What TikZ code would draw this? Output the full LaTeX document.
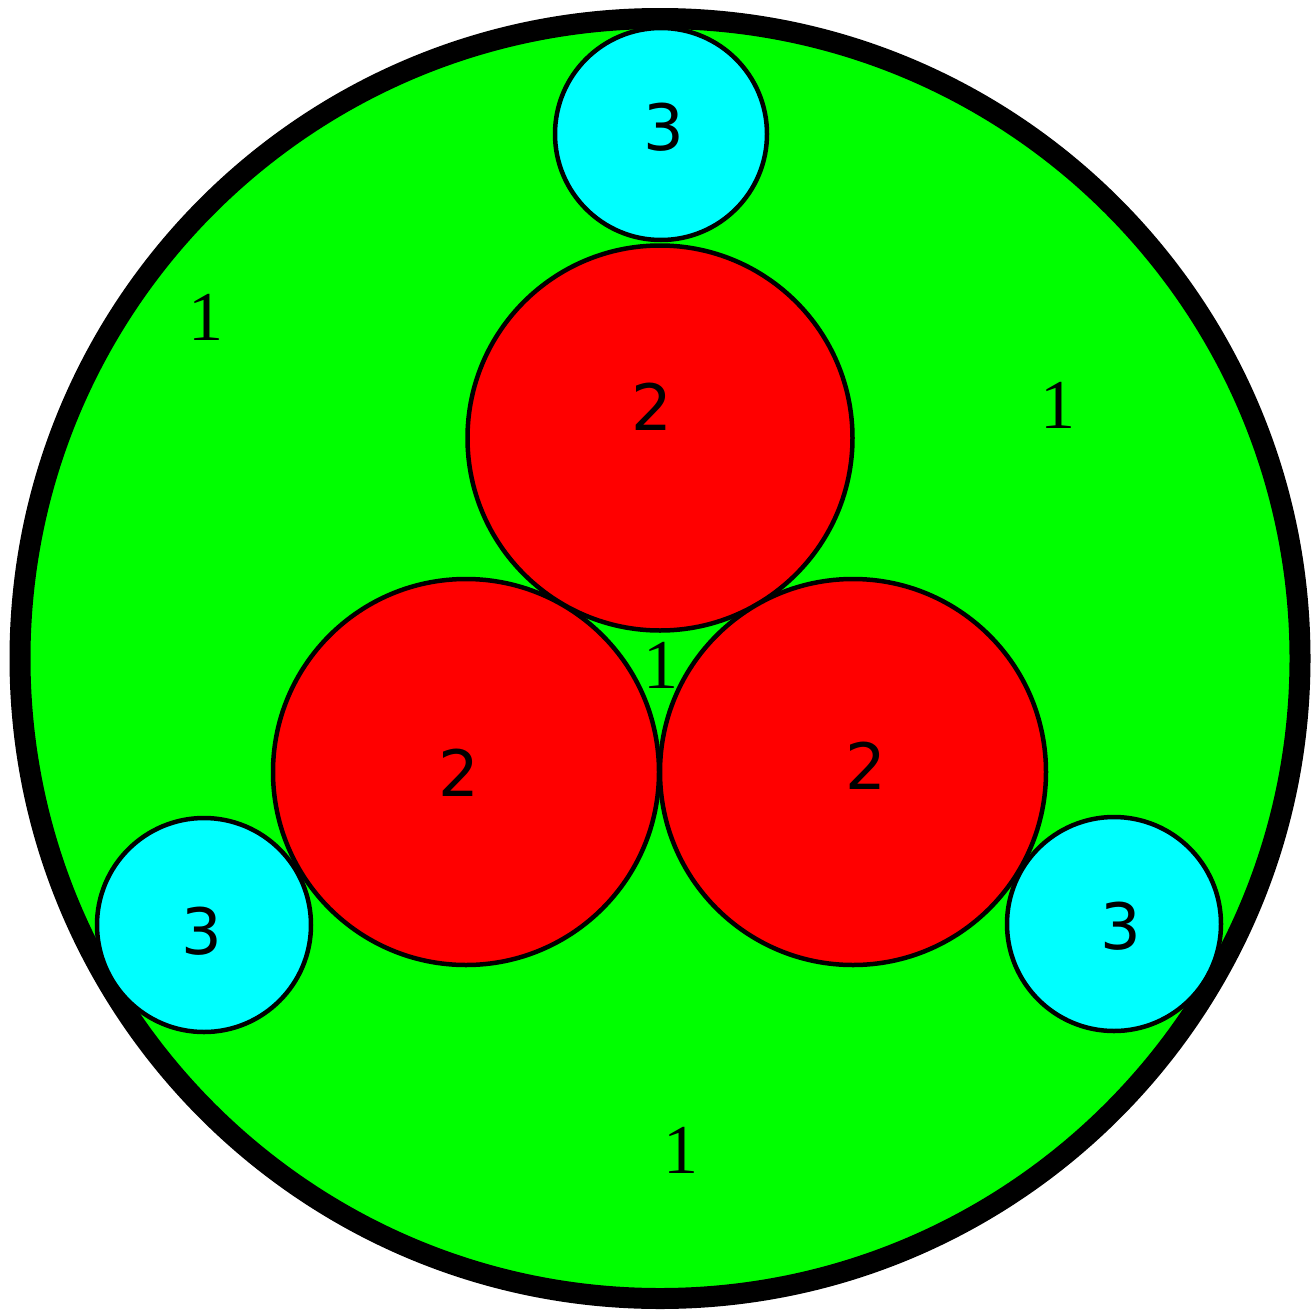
\documentclass[tikz,border=0pt]{standalone}
\usepackage{fontspec}
\newfontfamily\serifdigits{Liberation Serif}
\newfontfamily\sansdigits{DejaVu Sans}
\definecolor{aqua}{RGB}{0,255,255}
\definecolor{lime}{RGB}{0,255,0}
\definecolor{pure red}{RGB}{255,0,0}
\begin{document}
\begin{tikzpicture}[x=1pt,y=-1pt,
  region/.style={draw=black,line width=4.5pt},
  big/.style={region,fill=pure red},
  small/.style={region,fill=aqua},
  lone/.style={inner sep=0pt,font=\serifdigits\fontsize{70}{70}\selectfont},
  ltwo/.style={inner sep=0pt,font=\sansdigits\fontsize{64}{64}\selectfont}]
\useasboundingbox (0,0) rectangle (1315,1312);
\coordinate (O) at (660,658.5);
\fill[lime] (O) circle (640);
% outer border
\draw[line width=21pt] (O) circle (640);
% red circles
\draw[big] (660,438) circle (192.5);
\draw[big] (466,772) circle (193);
\draw[big] (853,772) circle (193);
% cyan circles
\draw[small] (661,134) circle (106);
\draw[small] (204,925) circle (107);
\draw[small] (1114,924) circle (107);
% labels
\node[lone] (a1) at (206,317) {1};
\node[lone] (b1) at (1058,405) {1};
\node[lone] (c1) at (661,665) {1};
\node[lone] (d1) at (681,1150) {1};
\node[ltwo] (a2) at (652,407) {2};
\node[ltwo] (b2) at (459,773) {2};
\node[ltwo] (c2) at (866,766) {2};
\node[ltwo] (a3) at (664,127) {3};
\node[ltwo] (b3) at (202,931) {3};
\node[ltwo] (c3) at (1121,926) {3};
\end{tikzpicture}
\end{document}
